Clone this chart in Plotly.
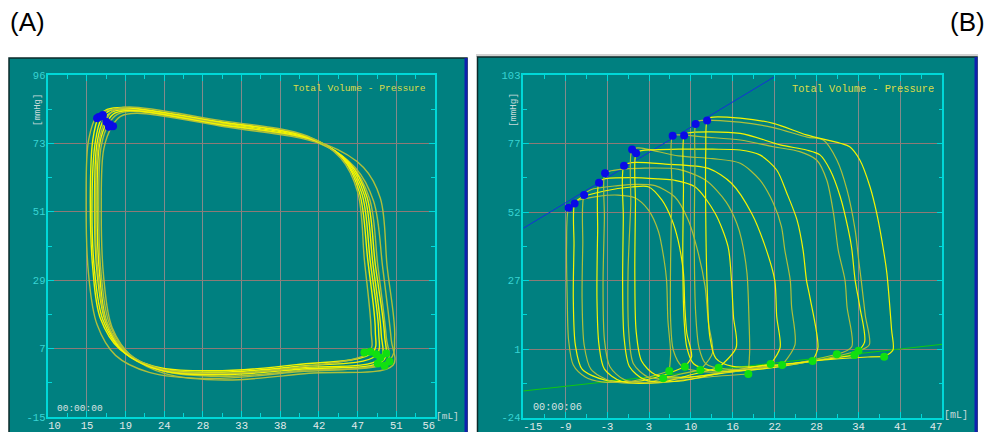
import plotly.graph_objects as go

W, H = 990, 432

# ---------------- Panel A data (steady-state loops) ----------------
A_XTICKS = [10, 14.6, 19.2, 23.8, 28.4, 33.0, 37.6, 42.2, 46.8, 51.4, 56.0]
A_XLABELS = ["\u00a0\u00a010", "15", "19", "24", "28", "33", "38", "42", "47", "51", "56\u00a0\u00a0"]
A_YTICKS = [-15, 7.2, 29.4, 51.6, 73.8, 96]
A_YLABELS = ["-15", "7", "29", "51", "73", "96"]

LOOPS_A_V = [
    [16.6, 15.8, 15.5, 15.8, 16.8, 19.0, 23.0, 30.0, 40.0, 49.5, 49.6, 48.6, 47.6, 45.5, 41.5, 30.0, 19.5, 17.6, 16.6],
    [17.2, 16.3, 16.0, 16.3, 17.3, 19.6, 23.6, 30.5, 40.5, 50.3, 50.2, 49.2, 48.2, 46.0, 42.0, 30.5, 20.0, 18.2, 17.2],
    [16.0, 15.3, 15.0, 15.3, 16.2, 18.5, 22.5, 29.5, 39.5, 48.6, 48.9, 48.0, 47.0, 45.0, 41.0, 29.5, 19.0, 17.0, 16.0],
    [17.6, 16.6, 16.3, 16.6, 17.6, 20.0, 24.0, 31.0, 41.0, 51.0, 50.8, 49.8, 48.7, 46.5, 42.5, 31.0, 20.5, 18.6, 17.6],
    [16.3, 15.6, 15.2, 15.5, 16.5, 18.8, 22.8, 29.8, 39.8, 49.0, 49.3, 48.3, 47.3, 45.2, 41.2, 29.8, 19.3, 17.3, 16.3],
    [15.8, 14.8, 14.5, 14.8, 15.8, 18.0, 22.0, 29.0, 39.0, 50.6, 51.2, 50.3, 49.5, 47.5, 43.0, 30.5, 19.0, 17.0, 15.8],
    [17.0, 16.1, 15.8, 16.1, 17.0, 19.3, 23.3, 30.2, 40.2, 49.9, 50.0, 48.9, 47.9, 45.8, 41.8, 30.2, 19.8, 17.9, 17.0],
    [16.8, 16.0, 15.6, 15.9, 16.9, 19.2, 23.2, 30.0, 40.0, 48.2, 48.4, 47.6, 46.8, 44.8, 40.8, 29.8, 19.6, 17.8, 16.8],
]
LOOPS_A_P = [
    [81.5, 74, 55, 32, 16, 6.0, 0.5, -1.0, 1.0, 4.0, 12, 35, 57, 68, 75.0, 80.5, 84.8, 84.0, 81.5],
    [80.2, 73, 54, 31, 15, 5.5, 0.0, -1.8, 0.2, 3.0, 11, 34, 56, 67, 74.2, 79.8, 84.2, 83.2, 80.2],
    [82.4, 75, 56, 33, 17, 7.0, 1.5, 0.0, 2.0, 6.0, 13, 36, 58, 69, 75.8, 81.2, 85.5, 84.8, 82.4],
    [79.5, 72, 53, 30, 14, 4.5, -1.0, -3.0, -0.8, 1.8, 10, 33, 55, 66, 73.5, 79.2, 83.6, 82.6, 79.5],
    [81.8, 74.5, 55.5, 32.5, 16.5, 6.5, 1.0, -0.5, 1.5, 5.0, 12.5, 35.5, 57.5, 68.5, 75.5, 81.0, 85.2, 84.4, 81.8],
    [82.8, 75, 55, 31, 15, 5.0, -0.5, -2.5, -0.5, 3.5, 11, 34, 56, 66, 73.5, 80.2, 85.0, 84.5, 82.8],
    [80.8, 73.5, 54.5, 31.5, 15.5, 5.8, 0.2, -1.3, 0.6, 3.5, 11.5, 34.5, 56.5, 67.5, 74.6, 80.0, 84.5, 83.6, 80.8],
    [81.2, 74, 55, 32, 16, 6.2, 0.8, -0.8, 1.2, 6.2, 13, 36, 58, 69, 76.2, 81.5, 85.6, 84.6, 81.2],
]
ES_A_V = [16.0, 16.5, 15.8, 17.3, 17.7, 16.9, 17.2, 16.3]
ES_A_P = [82.4, 83.0, 82.0, 80.0, 79.4, 80.8, 79.2, 82.6]
ED_A_V = [47.6, 48.3, 49.0, 49.5, 50.2, 50.6, 50.0, 49.2]
ED_A_P = [5.9, 6.2, 5.4, 4.2, 5.6, 3.0, 1.6, 2.4]

# ---------------- Panel B data (caval occlusion) ----------------
B_XTICKS = [-15, -8.8, -2.6, 3.6, 9.8, 16.0, 22.2, 28.4, 34.6, 40.8, 47]
B_XLABELS = ["\u00a0\u00a0\u00a0-15", "-9", "-3", "3", "10", "16", "22", "28", "34", "41", "47\u00a0\u00a0"]
B_YTICKS = [-24, 1.4, 26.8, 52.2, 77.6, 103]
B_YLABELS = ["-24", "1", "27", "52", "77", "103"]

ESPVR_V = [-15, 22.2]
ESPVR_P = [46.2, 102.4]
EDPVR_V = [-15, 47]
EDPVR_P = [-14.1, 3.2]

ES_B_V = [-8.3, -7.4, -6.0, -3.8, -2.9, -0.1, 1.1, 1.7, 7.1, 8.8, 10.5, 12.2]
ES_B_P = [53.8, 55.4, 58.5, 63.1, 66.6, 69.4, 75.4, 74.0, 80.5, 80.6, 84.8, 86.1]
ED_B_V = [5.7, 6.6, 8.9, 11.2, 13.9, 18.3, 21.6, 23.3, 27.8, 31.4, 34.0, 34.6, 38.4]
ED_B_P = [-9.4, -6.7, -5.1, -6.3, -5.5, -7.8, -4.1, -4.5, -3.0, -0.5, -0.8, 0.8, -1.4]

# relaxation + filling limb (ES -> ED along the left side and bottom)
FILL_B_V = [
    [-8.3, -8.6, -8.5, -8.3, -7.6, -5.9, -3.4, 1.0, 6.6],
    [-7.4, -7.5, -7.6, -7.3, -6.3, -3.0, 2.0, 6.0, 8.9],
    [-6.0, -6.2, -6.3, -6.0, -5.0, -2.0, 3.0, 8.0, 11.2],
    [-3.8, -4.0, -4.1, -3.8, -3.0, -0.5, 5.0, 10.0, 13.9],
    [-2.9, -3.0, -3.2, -3.0, -2.2, 0.0, 5.0, 12.0, 18.3],
    [-0.1, -0.2, -0.3, -0.1, 0.7, 3.0, 8.0, 15.0, 21.6],
    [1.1, 0.9, 0.5, 0.6, 1.3, 3.5, 8.0, 15.0, 23.3],
    [1.7, 1.6, 1.5, 1.7, 2.5, 4.5, 9.0, 16.0, 23.0, 27.8],
    [7.1, 7.0, 6.8, 6.8, 7.2, 8.5, 12.0, 20.0, 27.0, 31.4],
    [8.8, 8.7, 8.6, 8.8, 9.2, 10.2, 13.0, 20.0, 28.0, 34.0],
    [10.5, 10.4, 10.3, 10.5, 11.0, 12.0, 15.0, 22.0, 30.0, 34.6],
    [12.2, 12.0, 12.0, 12.2, 12.6, 13.5, 16.0, 22.0, 30.0, 36.0, 38.4],
]
FILL_B_P = [
    [53.8, 39.4, 20, 4.8, -4.5, -8.8, -10.7, -10.5, -6.7],
    [55.4, 40, 20, 3, -6, -10, -10.5, -8, -5.1],
    [58.5, 40, 20, 3, -6, -10.5, -11, -8, -6.3],
    [63.1, 45, 20, 3, -6, -10.5, -11, -8, -5.5],
    [66.6, 50, 25, 5, -5, -10, -11, -9, -7.8],
    [69.4, 50, 25, 6, -5, -10, -10.5, -7, -4.1],
    [75.4, 55, 30, 8, -4, -9, -9.5, -7, -4.5],
    [74.0, 55, 30, 8, -3, -8, -9, -7, -4.5, -3.0],
    [80.5, 60, 35, 12, 1, -5, -7, -6, -3, -0.5],
    [80.6, 60, 35, 12, 2, -4, -6.5, -6, -3, -0.8],
    [84.8, 70, 40, 15, 2, -4, -6, -5, -2, 0.8],
    [86.1, 75, 50, 25, 6, -2, -5, -4.5, -2.5, -1.5, -1.4],
]
# ejection + contraction limb (ES -> ED along the top and right side)
EJECT_B_V = [
    [-8.3, -7.5, -4.0, -1.0, 1.5, 3.5, 5.0, 5.8, 6.2, 6.4, 6.8, 6.6],
    [-7.4, -6.5, -3.0, 1.0, 3.5, 5.5, 7.0, 7.9, 8.7, 8.9, 9.2, 9.9, 8.9],
    [-6.0, -5.0, -1.0, 2.0, 4.5, 7.4, 9.4, 10.9, 11.9, 12.4, 13.0, 11.2],
    [-3.8, -3.0, 1.0, 5.0, 7.4, 10.4, 13.4, 15.3, 15.8, 16.1, 16.5, 13.9],
    [-2.9, -2.0, 3.0, 8.0, 12.0, 15.0, 16.6, 17.3, 18.1, 18.4, 18.5, 18.3],
    [-0.1, 1.0, 6.0, 12.4, 15.8, 18.8, 20.8, 22.2, 22.5, 23.0, 21.6],
    [1.1, 2.0, 8.0, 13.0, 17.1, 20.0, 22.0, 23.2, 23.7, 24.5, 24.7, 25.2, 23.3],
    [1.7, 2.5, 8.0, 13.0, 17.1, 20.0, 22.5, 24.0, 25.5, 26.4, 26.9, 27.4, 28.6, 27.8],
    [7.1, 8.0, 12.0, 17.1, 22.0, 25.9, 28.4, 29.9, 30.9, 31.6, 32.6, 32.9, 33.6, 31.4],
    [8.8, 9.3, 17.1, 23.0, 26.9, 28.9, 30.4, 31.9, 33.1, 33.6, 34.1, 34.8, 35.5, 34.0],
    [10.5, 11.0, 17.0, 22.0, 27.0, 29.4, 31.4, 32.9, 34.1, 34.6, 35.0, 35.6, 36.2, 34.6],
    [12.2, 12.8, 17.1, 22.0, 26.9, 31.9, 33.3, 34.8, 36.3, 37.3, 38.3, 38.8, 39.5, 39.7, 38.4],
]
EJECT_B_P = [
    [53.8, 56, 58, 58.5, 57.5, 53, 45, 35, 27, 12, 0, -6.7],
    [55.4, 57.5, 60, 61.5, 61.6, 56.7, 49.3, 41.8, 29.5, 17.1, 7.3, -1.4, -5.1],
    [58.5, 60.5, 62, 62.5, 62, 57.9, 49.3, 36.9, 24.6, 11, 0, -6.3],
    [63.1, 64.5, 65, 64.5, 64, 61.6, 51.7, 39.4, 27, 13.4, 2, -5.5],
    [66.6, 67.5, 68.5, 68, 64, 56, 48, 42, 29.5, 12, 1.1, -7.8],
    [69.4, 70.5, 70, 68.4, 62.9, 51.7, 39.4, 27, 13.4, 2, -4.1],
    [75.4, 76, 73, 72, 70.3, 64.1, 55.5, 46.8, 38.1, 27, 17.1, 3, -4.5],
    [74.0, 75, 75.5, 75.5, 75.2, 73.4, 67.8, 59.2, 49.3, 38.1, 27, 20.8, 2, -3.0],
    [80.5, 80.8, 80, 78.9, 76.4, 74.6, 71.5, 64.1, 51.7, 38.1, 27, 17.1, 2.3, -0.5],
    [80.6, 81.5, 81.4, 77.1, 75.2, 73.4, 67.8, 57.9, 45.6, 38.7, 27, 17, 4, -0.8],
    [84.8, 86, 85.5, 83.5, 80, 78.9, 71.5, 60.4, 45.6, 35, 27, 14, 3, 0.8],
    [86.1, 87.3, 87.0, 85.1, 80.8, 77.7, 76.4, 71.5, 61.6, 51.7, 38.1, 29.5, 8.5, 1.1, -1.4],
]

# ---------------- styling ----------------
TEAL = "#008080"
CYAN = "#00d8d8"
GRID_V = "#848a8a"
GRID_H = "#8e7a76"
LINE_COLORS = ["#f4f400", "#aebf3a"]
MONO = "Liberation Mono, DejaVu Sans Mono, monospace"


def fx(px):
    return px / W


def fy(py):
    return 1 - py / H


fig = go.Figure()

# Panel A loops
for i, (v, p) in enumerate(zip(LOOPS_A_V, LOOPS_A_P)):
    fig.add_trace(go.Scatter(x=v, y=p, mode="lines", xaxis="x", yaxis="y",
                             line=dict(color=LINE_COLORS[i % 2], width=1.4, shape="spline", smoothing=1.0),
                             hoverinfo="skip", showlegend=False))
fig.add_trace(go.Scatter(x=ED_A_V, y=ED_A_P, mode="markers", xaxis="x", yaxis="y",
                         marker=dict(color="#10e010", size=8), showlegend=False))
fig.add_trace(go.Scatter(x=ES_A_V, y=ES_A_P, mode="markers", xaxis="x", yaxis="y",
                         marker=dict(color="#0a0ae6", size=8), showlegend=False))

# Panel B relations
fig.add_trace(go.Scatter(x=ESPVR_V, y=ESPVR_P, mode="lines", xaxis="x2", yaxis="y2",
                         line=dict(color="#1530d8", width=1), showlegend=False))
fig.add_trace(go.Scatter(x=EDPVR_V, y=EDPVR_P, mode="lines", xaxis="x2", yaxis="y2",
                         line=dict(color="#10c810", width=1), showlegend=False))
# Panel B loops
for i in range(len(FILL_B_V)):
    v = FILL_B_V[i] + EJECT_B_V[i][::-1]
    p = FILL_B_P[i] + EJECT_B_P[i][::-1]
    fig.add_trace(go.Scatter(x=v, y=p, mode="lines", xaxis="x2", yaxis="y2",
                             line=dict(color=LINE_COLORS[(i + 1) % 2], width=1.2, shape="spline", smoothing=0.8),
                             hoverinfo="skip", showlegend=False))
fig.add_trace(go.Scatter(x=ED_B_V, y=ED_B_P, mode="markers", xaxis="x2", yaxis="y2",
                         marker=dict(color="#10e010", size=8), showlegend=False))
fig.add_trace(go.Scatter(x=ES_B_V, y=ES_B_P, mode="markers", xaxis="x2", yaxis="y2",
                         marker=dict(color="#0a0ae6", size=8), showlegend=False))


def axis(domain, rng, tv, tt, minor_d, anchor, color, standoff, grid):
    return dict(domain=domain, range=rng, tickmode="array", tickvals=tv, ticktext=tt,
                showline=True, linecolor=CYAN, linewidth=1.5, mirror="ticks",
                ticks="inside", ticklen=6, tickcolor=CYAN, tickwidth=1,
                minor=dict(ticks="inside", ticklen=4, tickcolor=CYAN, tick0=rng[0], dtick=minor_d, showgrid=False),
                showgrid=True, gridcolor=grid, gridwidth=1, zeroline=False, anchor=anchor,
                automargin=False, ticklabelstandoff=standoff,
                tickfont=dict(family=MONO, size=10.5, color=color), fixedrange=True)


shapes = [
    dict(type="rect", xref="paper", yref="paper", x0=fx(9), x1=fx(467), y0=-0.02, y1=fy(58),
         fillcolor=TEAL, line=dict(color="#0c2a2a", width=1.5), layer="below"),
    dict(type="rect", xref="paper", yref="paper", x0=fx(464.5), x1=fx(467.5), y0=-0.02, y1=fy(58),
         fillcolor="#1020b0", line=dict(width=0), layer="below"),
    dict(type="rect", xref="paper", yref="paper", x0=fx(476), x1=fx(978), y0=fy(57), y1=fy(54),
         fillcolor="#d2d2d2", line=dict(width=0), layer="below"),
    dict(type="rect", xref="paper", yref="paper", x0=fx(477.5), x1=fx(977), y0=-0.02, y1=fy(57),
         fillcolor=TEAL, line=dict(color="#0c2a2a", width=1.5), layer="below"),
    dict(type="rect", xref="paper", yref="paper", x0=fx(974.5), x1=fx(977.5), y0=-0.02, y1=fy(57),
         fillcolor="#1020b0", line=dict(width=0), layer="below"),
]


def ann(text, px, py, size, color, xanchor="center", family=MONO, angle=0):
    return dict(text=text, x=fx(px), y=fy(py), xref="paper", yref="paper", showarrow=False,
                xanchor=xanchor, yanchor="middle", textangle=angle,
                font=dict(family=family, size=size, color=color))


annotations = [
    ann("(A)", 8, 22, 26, "#000000", "left", "Liberation Sans, Arial, sans-serif"),
    ann("(B)", 987, 22, 26, "#000000", "right", "Liberation Sans, Arial, sans-serif"),
    ann("Total Volume - Pressure", 428, 88, 9.6, "#dcdc48", "right"),
    ann("Total Volume - Pressure", 936, 89, 10.3, "#dcdc48", "right"),
    ann("00:00:00", 55, 408, 9.5, "#d8e2e2", "left"),
    ann("00:00:06", 531, 407, 10.2, "#d8e2e2", "left"),
    ann("[mL]", 447, 416, 9.5, "#c8dada"),
    ann("[mL]", 956, 415, 10, "#c8dada"),
    ann("[mmHg]", 38, 110, 9, "#c8dada", angle=-90),
    ann("[mmHg]", 513, 110, 9.5, "#c8dada", angle=-90),
]

fig.update_layout(
    width=W, height=H, autosize=False,
    margin=dict(l=0, r=0, t=0, b=0, pad=0, autoexpand=False),
    paper_bgcolor="white", plot_bgcolor="rgba(0,0,0,0)",
    showlegend=False,
    xaxis=axis([fx(48.3), fx(435)], [10, 56], A_XTICKS, A_XLABELS, 2.3, "y", "#e2eaea", -2, GRID_V),
    yaxis=axis([fy(417), fy(75)], [-15, 96], A_YTICKS, A_YLABELS, 11.1, "x", "#38d4d4", -1, GRID_H),
    xaxis2=axis([fx(523.3), fx(942.3)], [-15, 47], B_XTICKS, B_XLABELS, 3.1, "y2", "#e2eaea", -2, GRID_V),
    yaxis2=axis([fy(417.7), fy(75)], [-24, 103], B_YTICKS, B_YLABELS, 12.7, "x2", "#38d4d4", -1, GRID_H),
    shapes=shapes,
    annotations=annotations,
)

fig.write_html("out.html", config={"displayModeBar": False},
               post_script="document.body.style.margin='0';document.body.style.padding='0';")
